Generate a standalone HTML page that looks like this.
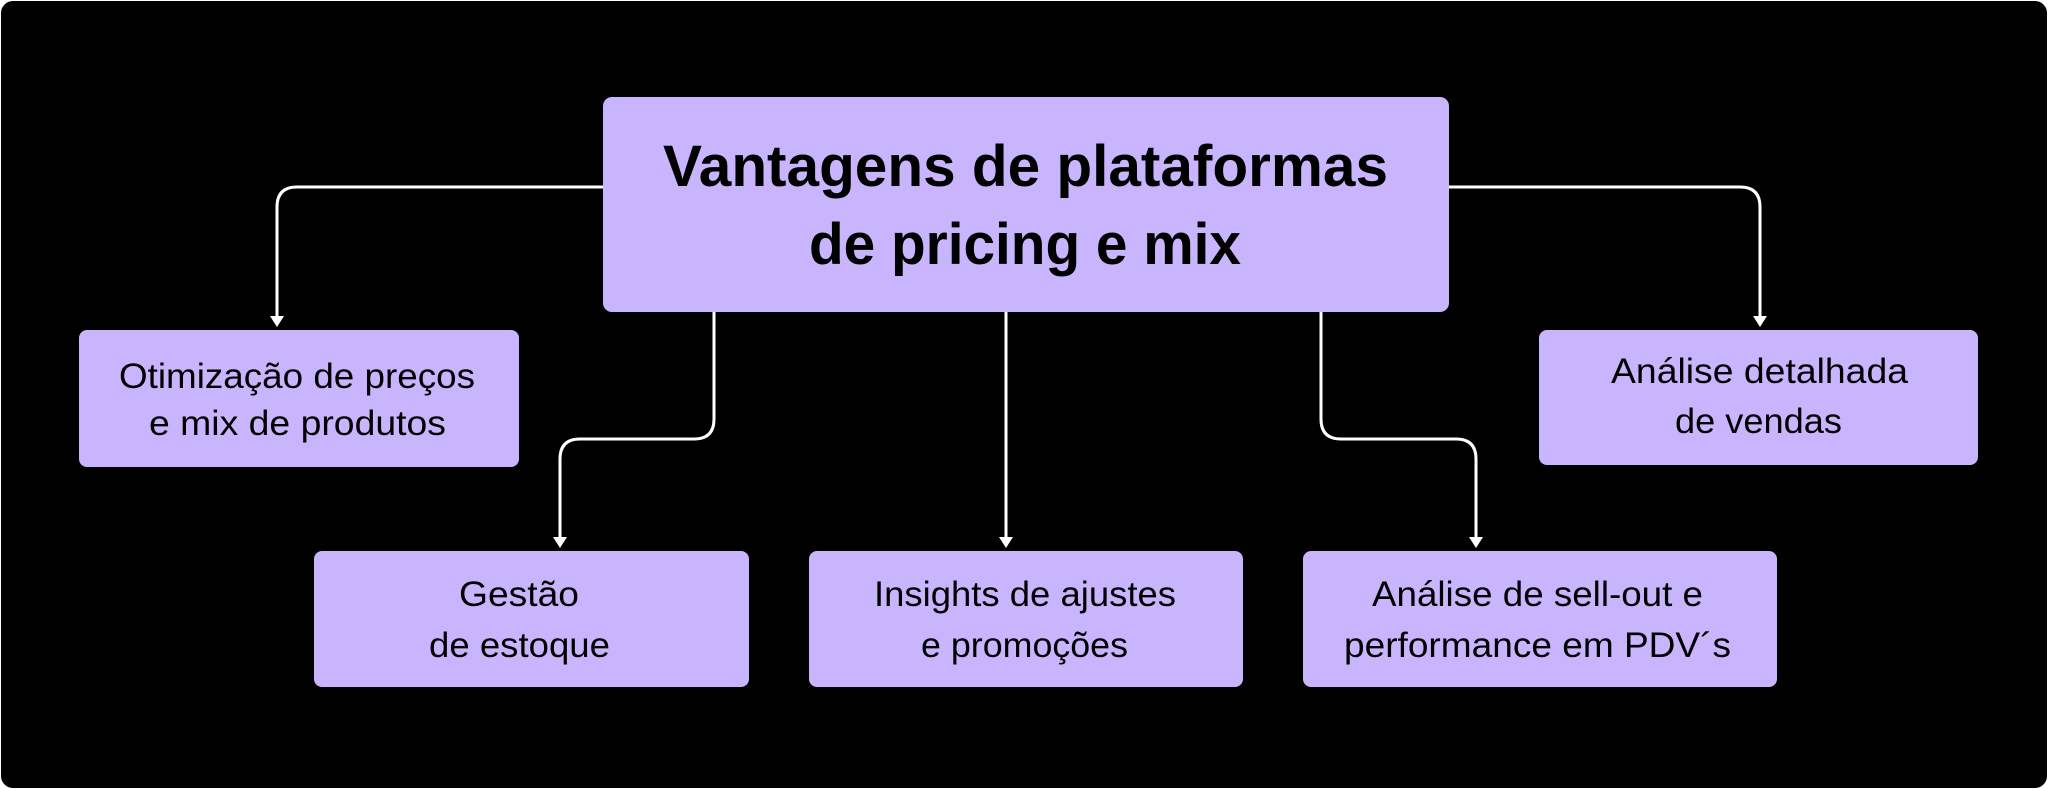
<!DOCTYPE html>
<html><head><meta charset="utf-8"><style>
html,body{margin:0;padding:0;background:#fff;width:2048px;height:789px;overflow:hidden}
svg{display:block}
text{font-family:"Liberation Sans",sans-serif;fill:#000}
.t{font-size:58px;font-weight:bold}
.s{font-size:35px}
</style></head><body>
<svg width="2048" height="789" viewBox="0 0 2048 789">
<rect x="1" y="1" width="2046" height="787" rx="12" fill="#000"/>
<g fill="#c9b5fe">
<rect x="603" y="97" width="846" height="215" rx="9"/>
<rect x="79" y="330" width="440" height="137" rx="8"/>
<rect x="314" y="551" width="435" height="136" rx="8"/>
<rect x="809" y="551" width="434" height="136" rx="8"/>
<rect x="1303" y="551" width="474" height="136" rx="8"/>
<rect x="1539" y="330" width="439" height="135" rx="8"/>
</g>
<g fill="none" stroke="#fff" stroke-width="3">
<path d="M603 187 H297 Q277 187 277 207 V318"/>
<path d="M714 312 V419 Q714 439 694 439 H580 Q560 439 560 459 V539"/>
<path d="M1006 312 V539"/>
<path d="M1321 312 V419 Q1321 439 1341 439 H1456 Q1476 439 1476 459 V539"/>
<path d="M1449 187 H1740 Q1760 187 1760 207 V318"/>
</g>
<g fill="#fff">
<path d="M270 316 H284 L277 327 Z"/>
<path d="M553 537 H567 L560 548 Z"/>
<path d="M999 537 H1013 L1006 548 Z"/>
<path d="M1469 537 H1483 L1476 548 Z"/>
<path d="M1753 316 H1767 L1760 327 Z"/>
</g>
<text class="t" x="663" y="186" textLength="725" lengthAdjust="spacingAndGlyphs">Vantagens de plataformas</text>
<text class="t" x="809" y="264" textLength="432" lengthAdjust="spacingAndGlyphs">de pricing e mix</text>
<g class="s">
<text class="s" x="119" y="388" textLength="356" lengthAdjust="spacingAndGlyphs">Otimização de preços</text>
<text class="s" x="149" y="435" textLength="297" lengthAdjust="spacingAndGlyphs">e mix de produtos</text>
<text class="s" x="459" y="606" textLength="120" lengthAdjust="spacingAndGlyphs">Gestão</text>
<text class="s" x="429" y="657" textLength="181" lengthAdjust="spacingAndGlyphs">de estoque</text>
<text class="s" x="874" y="606" textLength="302" lengthAdjust="spacingAndGlyphs">Insights de ajustes</text>
<text class="s" x="921" y="657" textLength="207" lengthAdjust="spacingAndGlyphs">e promoções</text>
<text class="s" x="1372" y="606" textLength="331" lengthAdjust="spacingAndGlyphs">Análise de sell-out e</text>
<text class="s" x="1344" y="657" textLength="387" lengthAdjust="spacingAndGlyphs">performance em PDV´s</text>
<text class="s" x="1611" y="383" textLength="297" lengthAdjust="spacingAndGlyphs">Análise detalhada</text>
<text class="s" x="1675" y="433" textLength="167" lengthAdjust="spacingAndGlyphs">de vendas</text>
</g>
</svg>
</body></html>
